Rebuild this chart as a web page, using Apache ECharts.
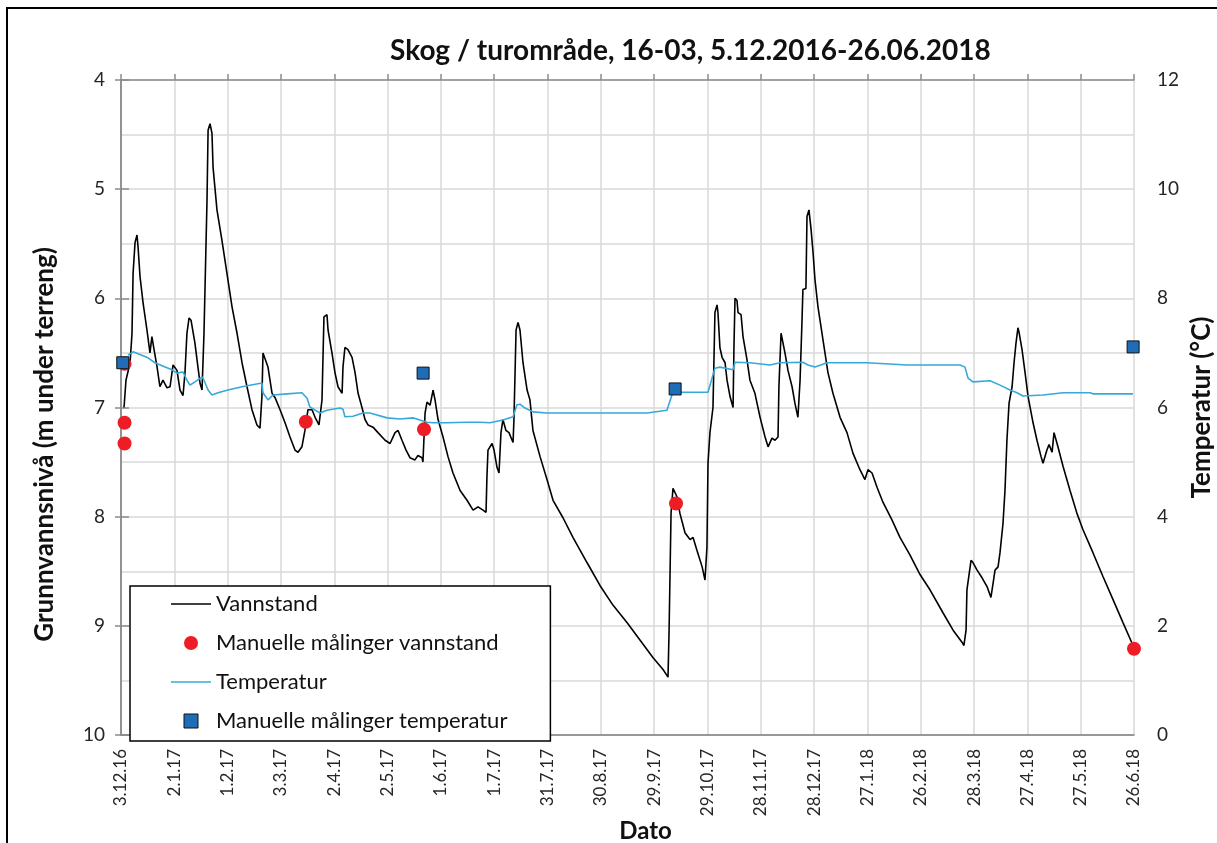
<!DOCTYPE html>
<html>
<head>
<meta charset="utf-8">
<script src="https://cdn.jsdelivr.net/npm/echarts@6/dist/echarts.min.js"></script>
<style>
html,body{margin:0;padding:0;background:#fff;overflow:hidden;width:1217px;height:843px;}
#chart{position:absolute;left:0;top:0;width:1217px;height:843px;}
</style>
</head>
<body>
<div id="chart"></div>
<script>
// X tick labels (one every 30 days starting 3.12.2016)
var tickLabels = ['3.12.16','2.1.17','1.2.17','3.3.17','2.4.17','2.5.17','1.6.17','1.7.17','31.7.17','30.8.17','29.9.17','29.10.17','28.11.17','28.12.17','27.1.18','26.2.18','28.3.18','27.4.18','27.5.18','26.6.18'];

// Vannstand (days since 3.12.2016, metres below ground)
var levelDays = [1.7,2.8,5.1,6.2,6.8,7.9,9.0,9.6,10.7,12.4,14.6,16.3,17.4,18.6,20.3,21.9,23.6,25.9,27.6,29.3,31.5,33.2,34.9,36.0,37.1,38.3,39.4,41.6,43.3,44.5,45.6,46.7,48.4,49.0,50.1,51.2,51.8,54.0,56.8,59.6,62.5,65.3,68.1,70.9,73.7,76.5,78.2,79.3,79.9,81.0,82.7,85.0,86.7,89.5,92.3,95.1,97.9,99.6,101.8,103.5,105.2,107.5,109.2,111.4,113.1,114.2,115.9,116.5,118.7,120.4,122.1,124.4,124.9,126.0,127.7,130.0,131.7,133.4,135.6,137.3,139.0,141.8,144.6,148.6,151.4,154.2,155.9,158.1,160.4,162.6,165.4,167.1,169.4,169.9,171.1,172.2,173.9,175.6,176.7,178.4,181.2,184.0,186.8,190.8,194.7,198.1,200.9,203.7,205.4,205.9,206.5,208.8,209.9,211.6,212.7,213.8,214.9,216.6,218.3,220.6,221.1,222.3,223.4,224.5,226.2,228.5,230.1,231.8,235.8,239.7,243.1,248.7,254.3,262.2,269.5,276.8,284.7,292.0,299.3,305.0,307.8,308.4,309.5,310.6,312.9,314.5,317.4,320.2,321.9,324.1,327.0,328.6,329.7,330.3,331.4,333.1,334.2,335.4,335.9,337.0,338.2,339.9,341.0,342.7,344.4,344.9,345.5,346.6,347.2,348.9,350.0,352.2,353.9,356.7,359.6,362.4,364.1,366.3,368.0,369.7,370.2,371.4,372.5,373.6,375.3,377.6,379.2,380.9,382.1,383.2,383.7,385.4,386.0,387.1,388.3,389.4,390.5,392.2,395.0,397.8,400.6,404.6,408.5,411.9,415.8,418.6,420.3,422.6,425.4,428.8,433.8,438.3,443.9,449.6,455.2,462.5,468.2,473.2,474.3,475.5,476.0,478.3,479.4,481.7,484.5,487.3,489.5,490.7,491.8,493.5,494.6,496.3,497.4,498.5,499.7,501.4,502.5,503.6,504.7,505.3,507.0,508.7,510.4,513.2,515.4,517.7,518.8,521.0,522.2,523.9,525.0,526.1,527.2,530.1,534.0,537.9,541.3,546.9,552.6,558.2,563.8,568.9];
var levelValues = [7.00,6.75,6.59,6.32,5.77,5.49,5.42,5.53,5.80,6.04,6.29,6.50,6.35,6.47,6.63,6.81,6.75,6.82,6.81,6.61,6.66,6.84,6.89,6.68,6.32,6.18,6.20,6.41,6.63,6.78,6.84,6.32,5.10,4.46,4.40,4.49,4.80,5.19,5.47,5.77,6.08,6.32,6.59,6.81,7.02,7.16,7.19,6.90,6.50,6.49,6.63,6.87,6.91,7.02,7.14,7.27,7.39,7.41,7.36,7.21,7.02,7.02,7.09,7.16,6.93,6.17,6.15,6.29,6.50,6.68,6.81,6.87,6.63,6.45,6.47,6.54,6.68,6.87,7.00,7.11,7.16,7.18,7.23,7.30,7.33,7.23,7.21,7.30,7.39,7.46,7.48,7.44,7.46,7.50,7.05,6.95,6.98,6.84,6.93,7.11,7.27,7.45,7.60,7.76,7.85,7.94,7.91,7.94,7.96,7.64,7.39,7.33,7.39,7.55,7.60,7.23,7.11,7.21,7.23,7.32,7.11,6.29,6.22,6.29,6.59,6.84,6.93,7.21,7.45,7.66,7.85,8.01,8.19,8.42,8.63,8.81,8.97,9.13,9.29,9.40,9.47,9.04,7.97,7.74,7.82,7.97,8.15,8.21,8.19,8.31,8.46,8.58,8.28,7.51,7.23,7.00,6.13,6.06,6.13,6.45,6.54,6.59,6.75,6.90,7.00,6.45,6.00,6.02,6.13,6.15,6.35,6.56,6.75,6.87,7.09,7.27,7.36,7.28,7.30,7.27,6.81,6.32,6.31,6.50,6.66,6.81,6.96,7.09,6.75,6.20,5.92,5.91,5.25,5.19,5.37,5.58,5.83,6.08,6.38,6.68,6.87,7.09,7.23,7.42,7.57,7.66,7.57,7.60,7.73,7.87,8.03,8.19,8.35,8.53,8.67,8.88,9.04,9.15,9.18,9.04,8.67,8.40,8.42,8.49,8.56,8.64,8.74,8.61,8.49,8.46,8.33,8.06,7.76,7.30,6.96,6.81,6.59,6.41,6.27,6.31,6.47,6.68,6.90,7.14,7.30,7.45,7.51,7.39,7.34,7.41,7.23,7.22,7.36,7.54,7.76,7.97,8.12,8.33,8.55,8.76,8.97,9.16];

// Temperatur (°C)
var tempDays = [3.9,6.8,7.9,15.2,19.1,24.8,28.7,31.5,34.9,37.1,38.8,41.6,45.6,46.7,49.0,51.2,54.6,60.2,68.1,79.3,79.9,82.7,85.5,93.4,101.8,104.7,106.3,112.0,115.9,123.2,124.9,126.0,130.5,136.2,140.1,149.7,157.0,164.3,168.2,172.2,175.6,183.4,194.7,202.0,207.6,214.9,220.6,222.8,224.5,227.3,231.8,239.7,258.3,271.2,296.0,307.2,310.0,312.9,330.3,332.6,334.2,337.0,344.4,345.5,353.9,365.2,370.8,383.7,386.6,390.5,397.3,419.8,442.3,472.1,474.9,476.6,479.4,489.0,494.6,500.2,504.2,507.5,518.8,530.1,545.3,546.9,569.4];
var tempValues = [6.96,7.02,7.00,6.91,6.82,6.74,6.69,6.63,6.65,6.50,6.41,6.47,6.56,6.50,6.32,6.23,6.27,6.32,6.38,6.45,6.27,6.14,6.23,6.25,6.27,6.17,6.01,5.90,5.95,5.99,5.97,5.83,5.84,5.90,5.90,5.81,5.79,5.81,5.77,5.73,5.72,5.72,5.73,5.73,5.72,5.77,5.83,6.05,6.06,5.99,5.92,5.90,5.90,5.90,5.90,5.95,6.23,6.28,6.28,6.54,6.72,6.74,6.69,6.83,6.82,6.78,6.82,6.83,6.78,6.74,6.82,6.82,6.78,6.78,6.74,6.54,6.47,6.49,6.41,6.32,6.27,6.21,6.23,6.27,6.27,6.25,6.25];

// Manual measurements
var manualLevelDays = [2,2,2,104,170.5,312.3,570];
var manualLevelValues = [6.60,7.14,7.33,7.13,7.20,7.88,9.21];
var manualTempDays = [1,170,311.8,569.5];
var manualTempValues = [6.82,6.63,6.34,7.11];

function zip(a, b) { var r = []; for (var i = 0; i < a.length; i++) r.push([a[i], b[i]]); return r; }

var FONT = 'Lato';
var gridColor = '#d9d9d9';
var axisColor = '#8c8c8c';
var labelColor = '#262626';
var lineIcon = 'path://M0,0h40v1.6h-40z';
var squareIcon = 'path://M0,0h12v12h-12z';

var chart = echarts.init(document.getElementById('chart'), null, {renderer: 'canvas', width: 1217, height: 843});
chart.setOption({
  animation: false,
  backgroundColor: '#ffffff',
  textStyle: {fontFamily: FONT},
  title: {
    text: 'Skog / turområde, 16-03, 5.12.2016-26.06.2018',
    left: 385, top: 32,
    textStyle: {fontFamily: FONT, fontWeight: 'bold', fontSize: 28, color: '#111'}
  },
  graphic: [{
    type: 'rect', shape: {x: 7, y: 8, width: 1300, height: 900},
    style: {fill: null, stroke: '#000', lineWidth: 2}, silent: true, z: 100
  }],
  grid: {left: 121, right: 83, top: 80, bottom: 108, containLabel: false, outerBoundsMode: 'none'},
  legend: {
    orient: 'vertical', left: 130, top: 586,
    padding: [7, 43, 9, 41],
    itemWidth: 40, itemHeight: 14, itemGap: 17,
    backgroundColor: '#fff', borderColor: '#000', borderWidth: 1.5,
    textStyle: {fontFamily: FONT, fontSize: 22, lineHeight: 20, color: '#111'},
    data: [
      {name: 'Vannstand', icon: lineIcon},
      {name: 'Manuelle målinger vannstand', icon: 'circle', itemStyle: {opacity: 1}},
      {name: 'Temperatur', icon: lineIcon},
      {name: 'Manuelle målinger temperatur', icon: squareIcon, itemStyle: {borderColor: '#111', borderWidth: 1, opacity: 1}}
    ]
  },
  xAxis: [{
    type: 'value', position: 'bottom', min: 0, max: 570, interval: 30,
    name: 'Dato', nameLocation: 'middle', nameGap: 84, nameMoveOverlap: false,
    nameTextStyle: {fontFamily: FONT, fontWeight: 'bold', fontSize: 24, color: '#111', padding: [0, 0, 0, 36]},
    axisLine: {show: true, lineStyle: {color: '#7f7f7f', width: 1.5}},
    axisTick: {show: false},
    axisLabel: {
      rotate: 90, margin: 14, fontSize: 17, color: labelColor, fontFamily: FONT,
      formatter: function (v) { return tickLabels[Math.round(v / 30)] || ''; }
    },
    splitLine: {show: true, lineStyle: {color: gridColor, width: 1.5}}
  }, {
    type: 'value', position: 'top', min: 0, max: 570, interval: 30,
    axisLine: {show: true, onZero: false, lineStyle: {color: axisColor, width: 1.5}},
    axisTick: {show: true, inside: false, length: 6, lineStyle: {color: axisColor, width: 1.5}},
    axisLabel: {show: false},
    splitLine: {show: false}
  }],
  yAxis: [{
    type: 'value', position: 'left', inverse: true, min: 4, max: 10, interval: 1,
    name: 'Grunnvannsnivå (m under terreng)', nameLocation: 'middle', nameGap: 63, nameRotate: 90, nameMoveOverlap: false,
    nameTextStyle: {fontFamily: FONT, fontWeight: 'bold', fontSize: 26, color: '#111', padding: [0, 74, 0, 0]},
    axisLine: {show: true, lineStyle: {color: axisColor, width: 1.5}},
    axisTick: {show: true, length: 6, lineStyle: {color: axisColor, width: 1.5}},
    axisLabel: {fontSize: 19, margin: 16, color: labelColor, fontFamily: FONT},
    splitLine: {show: true, lineStyle: {color: gridColor, width: 1.5}},
    minorTick: {show: false, splitNumber: 2},
    minorSplitLine: {show: true, lineStyle: {color: gridColor, width: 1.5}}
  }, {
    type: 'value', position: 'right', min: 0, max: 12, interval: 2,
    name: 'Temperatur (°C)', nameLocation: 'middle', nameGap: 55, nameRotate: 90, nameMoveOverlap: false,
    nameTextStyle: {fontFamily: FONT, fontWeight: 'bold', fontSize: 26, color: '#111'},
    axisLine: {show: true, lineStyle: {color: axisColor, width: 1.5}},
    axisTick: {show: true, length: 8, lineStyle: {color: axisColor, width: 1.5}},
    axisLabel: {fontSize: 19, margin: 23, color: labelColor, fontFamily: FONT},
    splitLine: {show: false}
  }],
  series: [{
    name: 'Vannstand', type: 'line', xAxisIndex: 0, yAxisIndex: 0,
    data: zip(levelDays, levelValues), symbol: 'none', showSymbol: false,
    color: '#000', lineStyle: {color: '#000', width: 1.6}, z: 3
  }, {
    name: 'Manuelle målinger vannstand', type: 'scatter', xAxisIndex: 0, yAxisIndex: 0,
    data: zip(manualLevelDays, manualLevelValues), symbol: 'circle', symbolSize: 14,
    itemStyle: {color: '#ee1c24', opacity: 1}, clip: false, z: 5
  }, {
    name: 'Temperatur', type: 'line', xAxisIndex: 0, yAxisIndex: 1,
    data: zip(tempDays, tempValues), symbol: 'none', showSymbol: false,
    color: '#37a8d9', lineStyle: {color: '#37a8d9', width: 1.6}, z: 4
  }, {
    name: 'Manuelle målinger temperatur', type: 'scatter', xAxisIndex: 0, yAxisIndex: 1,
    data: zip(manualTempDays, manualTempValues), symbol: 'rect', symbolSize: 12,
    itemStyle: {color: '#1f6cb7', borderColor: '#111', borderWidth: 1, opacity: 1}, clip: false, z: 6
  }]
});
</script>
</body>
</html>
